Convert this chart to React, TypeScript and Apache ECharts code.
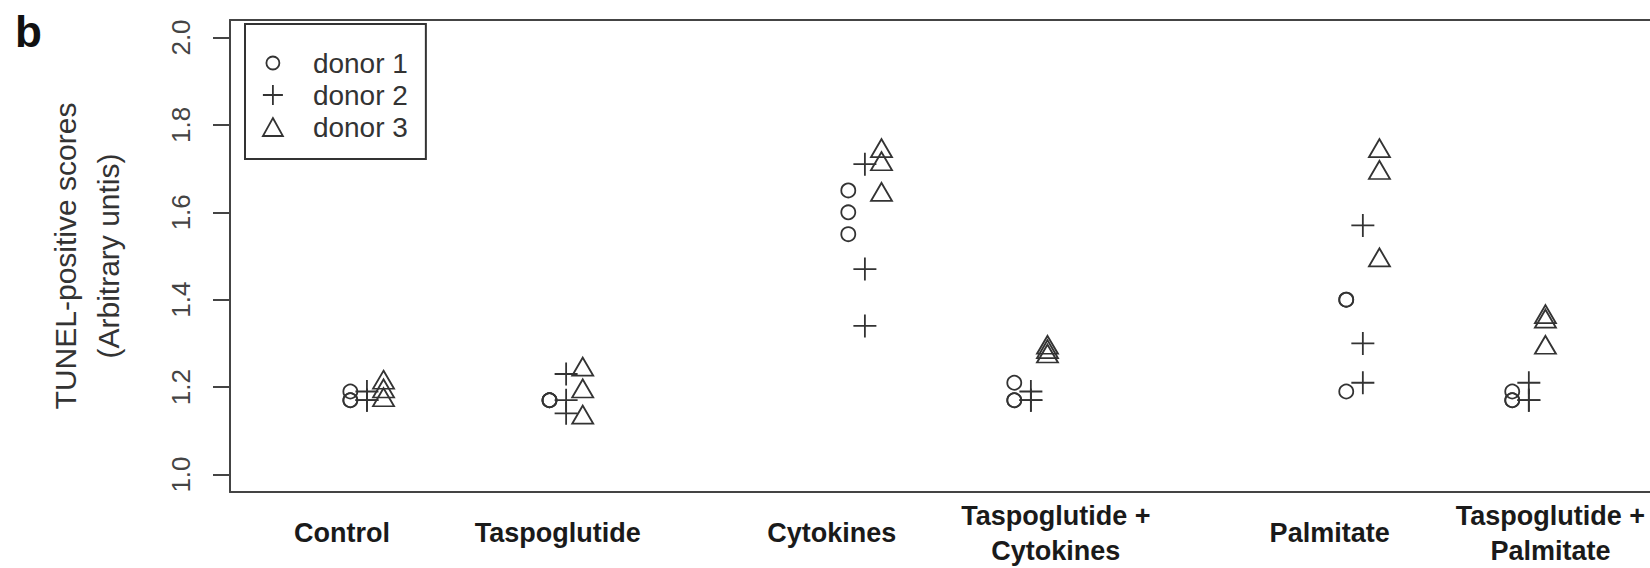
import React, { useEffect, useRef } from 'react';
import * as echarts from 'echarts';

// ---- data ----
const groups = [
  'Control',
  'Taspoglutide',
  'Cytokines',
  'Taspoglutide +\nCytokines',
  'Palmitate',
  'Taspoglutide +\nPalmitate',
];
const groupX = [1, 2.2, 4, 5, 7, 8];
const labelX = [0.85, 2.15, 3.8, 5.15, 6.8, 8.13];
const donors = ['donor 1', 'donor 2', 'donor 3'];
const donorOffset = [-0.1, 0, 0.1];
const donor1 = [
  [1.19, 1.17, 1.17],
  [1.17, 1.17, 1.17],
  [1.65, 1.6, 1.55],
  [1.21, 1.17, 1.17],
  [1.4, 1.4, 1.19],
  [1.19, 1.17, 1.17],
];
const donor2 = [
  [1.19, 1.17, 1.17],
  [1.23, 1.17, 1.14],
  [1.71, 1.47, 1.34],
  [1.19, 1.17, 1.17],
  [1.57, 1.3, 1.21],
  [1.21, 1.17, 1.17],
];
const donor3 = [
  [1.21, 1.19, 1.17],
  [1.24, 1.19, 1.13],
  [1.74, 1.71, 1.64],
  [1.29, 1.28, 1.27],
  [1.74, 1.69, 1.49],
  [1.36, 1.35, 1.29],
];
const yTicks = [1.0, 1.2, 1.4, 1.6, 1.8, 2.0];

const FONT = '"Liberation Sans", Arial, Helvetica, sans-serif';
const INK = '#333';

const PLUS = 'path://M0,11L22,11M11,0L11,22';
const legendIcons = [
  'path://M0,0M22,20M17.5,10A6.5,6.5,0,1,1,4.5,10A6.5,6.5,0,1,1,17.5,10Z',
  'path://M0,11L22,11M11,0L11,22',
  'path://M0,0M22,20M11,1L21,19L1,19Z',
];

export default function App() {
  const ref = useRef<HTMLDivElement>(null);

  useEffect(() => {
    if (!ref.current) return;
    const chart = echarts.init(ref.current, undefined, { renderer: 'svg' });

    const all = [donor1, donor2, donor3];
    const symbols: any[] = ['circle', PLUS, 'triangle'];
    const sizes: any[] = [14, 23, [21, 18]];
    const offsets: any[] = [[0, 0], [0, 0], [0, -3]];

    const series = all.map((vals, d) => ({
      type: 'scatter',
      name: donors[d],
      xAxisIndex: 0,
      yAxisIndex: 0,
      symbol: symbols[d],
      symbolSize: sizes[d],
      symbolOffset: offsets[d],
      itemStyle: { color: 'transparent', borderColor: INK, borderWidth: 1.8, opacity: 1 },
      emphasis: { disabled: true },
      data: vals.flatMap((arr, g) => arr.map((v) => [groupX[g] + donorOffset[d], v])),
      z: 3,
    }));

    chart.setOption({
      animation: false,
      backgroundColor: '#fff',
      title: {
        text: 'b',
        left: 10,
        top: 4,
        textStyle: { fontSize: 44, fontWeight: 'bold', color: '#111', fontFamily: FONT },
      },
      legend: {
        orient: 'vertical',
        left: 245,
        top: 24,
        padding: [23, 18, 16, 16],
        itemGap: 0,
        itemWidth: 22,
        itemHeight: 20,
        borderColor: INK,
        borderWidth: 2,
        selectedMode: false,
        itemStyle: { color: 'transparent', borderColor: INK, borderWidth: 1.8 },
        textStyle: {
          fontSize: 28,
          lineHeight: 32,
          color: INK,
          fontFamily: FONT,
          padding: [0, 0, 0, 24],
        },
        data: donors.map((n, i) => ({ name: n, icon: legendIcons[i] })),
      },
      grid: { left: 230, right: 0, top: 20, bottom: 75, containLabel: false },
      xAxis: [
        {
          type: 'value',
          min: 0.175,
          max: 8.73,
          position: 'bottom',
          splitLine: { show: false },
          axisTick: { show: false },
          axisLine: { show: true, onZero: false, lineStyle: { color: '#444', width: 2 } },
          axisLabel: {
            customValues: labelX,
            formatter: (v: number) => {
              const i = labelX.findIndex((p) => Math.abs(p - v) < 1e-6);
              return i >= 0 ? groups[i] : '';
            },
            fontSize: 27,
            fontWeight: 'bold',
            color: '#1a1a1a',
            fontFamily: FONT,
            lineHeight: 35,
            verticalAlign: 'middle',
            margin: 41,
          },
        },
        {
          type: 'value',
          min: 0.175,
          max: 8.73,
          position: 'top',
          splitLine: { show: false },
          axisTick: { show: false },
          axisLabel: { show: false },
          axisLine: { show: true, onZero: false, lineStyle: { color: '#444', width: 2 } },
        },
      ],
      yAxis: {
        type: 'value',
        min: 0.96,
        max: 2.04,
        splitLine: { show: false },
        axisLine: { show: true, onZero: false, lineStyle: { color: '#444', width: 2 } },
        axisTick: {
          show: true,
          customValues: yTicks,
          length: 17,
          lineStyle: { color: '#444', width: 2 },
        },
        axisLabel: {
          customValues: yTicks,
          formatter: (v: number) => v.toFixed(1),
          rotate: 90,
          fontSize: 26,
          color: '#444',
          fontFamily: FONT,
          margin: 36,
        },
        name: 'TUNEL-positive scores\n(Arbitrary untis)',
        nameLocation: 'middle',
        nameRotate: 90,
        nameGap: 100,
        nameTextStyle: { fontSize: 30, lineHeight: 43, color: INK, fontFamily: FONT },
      },
      series,
    });

    return () => chart.dispose();
  }, []);

  return (
    <div
      ref={ref}
      style={{ position: 'absolute', left: 0, top: 0, width: 1650, height: 568 }}
    />
  );
}
